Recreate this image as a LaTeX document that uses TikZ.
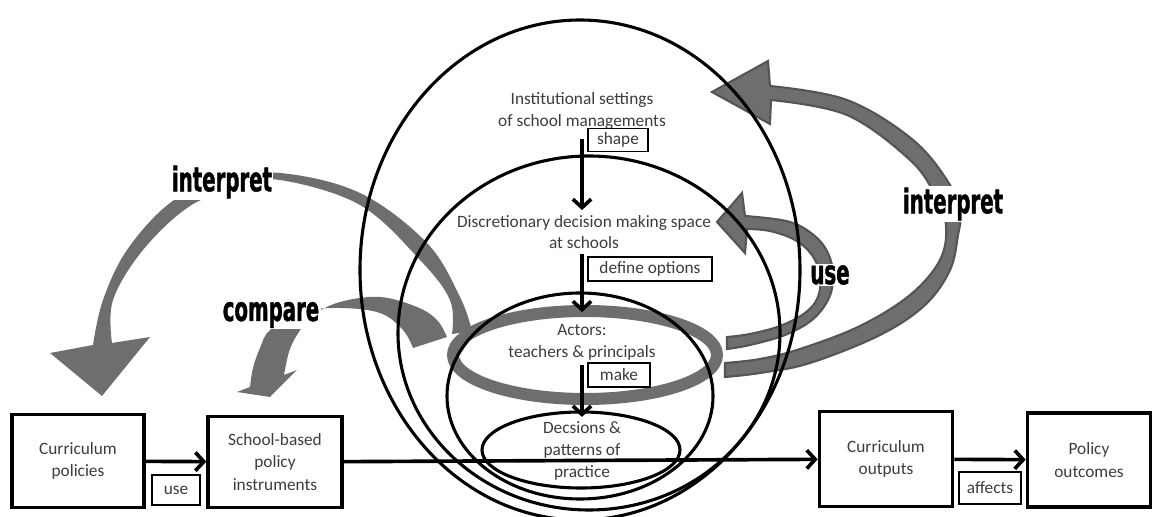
\documentclass[tikz,border=0pt]{standalone}
\usepackage{fontspec}
\setmainfont{Carlito}
\newfontfamily\verbfont[FakeStretch=0.585,FakeBold=1.2]{DejaVu Sans}
\usetikzlibrary{arrows.meta}
\definecolor{txtgray}{RGB}{60,60,60}
\definecolor{arrowgray}{RGB}{110,110,110}
\definecolor{rimgray}{RGB}{85,85,85}

\begin{document}
\begin{tikzpicture}[x=0.025cm,y=-0.025cm,
    box/.style={draw=black,line width=2.4pt,align=center,text=txtgray,inner sep=0pt,font=\fontsize{12.3}{16}\selectfont},
    tag/.style={draw=black,line width=1.4pt,text=txtgray,inner sep=0pt,font=\fontsize{12.3}{14}\selectfont},
    txt/.style={align=center,text=txtgray,font=\fontsize{12.3}{15.5}\selectfont},
    verb/.style={fill=white,inner sep=1pt,font=\verbfont\bfseries\fontsize{24}{24}\selectfont},
    flow/.style={line width=2.6pt,-{Straight Barb[length=6pt,width=13pt]}},
    ring/.style={line width=2.2pt},
    band/.style={fill=arrowgray},
    rimband/.style={fill=arrowgray,draw=rimgray,line width=1.5pt}]
\clip (0,0) rectangle (1153,517);

% gray arrows
\fill[band] plot[smooth,tension=0.6] coordinates {(472,331) (460,297) (427,243) (360,193) (280,173) (220,180) (170,203) (127,250) (103,300) (93,345)}
    -- (50,353) -- (102,396) -- (150,337) -- (112,343)
    -- plot[smooth,tension=0.6] coordinates {(112,343) (113,300) (143,250) (190,206) (240,187) (280,180) (360,205) (420,260) (450,300) (452,334)} -- cycle;
\fill[band] plot[smooth,tension=0.6] coordinates {(447,337) (437,320) (417,307) (380,297) (340,302) (312,316) (297,335) (289,352) (284,375)}
    -- (297,370) -- (270,397) -- (237,392) -- (250,387)
    -- plot[smooth,tension=0.6] coordinates {(250,387) (253,368) (260,348) (270,330) (300,312) (340,308) (380,313) (403,330) (413,348)} -- cycle;
\filldraw[rimband] (712,92) -- (768,61) -- (770,86)
    -- plot[smooth,tension=0.6] coordinates {(770,86) (847,100) (913,140) (950,185) (960,215) (958,235) (950,270) (925,305) (880,335) (810,363) (760,373) (725,377)}
    -- (725,363)
    -- plot[smooth,tension=0.6] coordinates {(725,363) (760,359) (800,349) (860,326) (910,295) (940,260) (946,225) (935,195) (910,160) (847,115) (771,100)}
    -- (770,124) -- cycle;
\filldraw[rimband] (717,222) -- (742,193) -- (745,216)
    -- plot[smooth,tension=0.6] coordinates {(745,216) (790,222) (817,238) (830,258) (833,280) (828,300) (812,320) (785,335) (750,345) (727,349)}
    -- (727,337)
    -- plot[smooth,tension=0.6] coordinates {(727,337) (750,334) (780,326) (805,313) (818,297) (820,275) (812,255) (795,240) (770,231) (747,229)}
    -- (745,253) -- cycle;
\draw[draw=arrowgray,line width=0.3cm] (585,355) ellipse [x radius=132, y radius=44];

\node[verb] (interp1) at (222,182) {interpret};
\node[verb] (comp) at (271,315) {compare};
\node[verb] (interp2) at (953,204) {interpret};
\node[verb] (usev) at (830,275) {use};

% levels
\draw[ring] (580,270) ellipse [x radius=220, y radius=250];
\draw[ring] (589,333) ellipse [x radius=191, y radius=177];
\draw[ring] (580,396) ellipse [x radius=133, y radius=103];
\draw[ring] (581,450) ellipse [x radius=99, y radius=38];

\node[txt] (inst) at (582,111) {Institutional settings\\of school managements};
\node[txt] (disc) at (584,232) {Discretionary decision making space\\at schools};
\node[txt] (act) at (582,342) {Actors:\\teachers \& principals};
\node[txt] (dec) at (582,451) {Decsions \&\\patterns of\\practice};

\node[tag,minimum width=1.5cm,minimum height=0.575cm] (shape) at (618,140) {shape};
\node[tag,minimum width=3.1cm,minimum height=0.6cm] (opts) at (650,269) {define options};
\node[tag,minimum width=1.55cm,minimum height=0.6cm] (make) at (619,375) {make};

\draw[flow] ([yshift=-3pt]inst.south) -- (inst.south |- disc.north);
\draw[flow] (disc.south -| act) -- ([yshift=5pt]act.north);
\draw[flow] (act.south) -- (dec.north);

% chain
\node[box,minimum width=3.3cm,minimum height=2.33cm] (cpol) at (78,461) {Curriculum\\policies};
\node[box,minimum width=3.35cm,minimum height=2.28cm] (sbpi) at (275,462) {School-based\\policy\\instruments};
\node[box,minimum width=3.33cm,minimum height=2.38cm] (cout) at (886,459) {Curriculum\\outputs};
\node[box,minimum width=3.08cm,minimum height=2.35cm] (pout) at (1089,460) {Policy\\outcomes};

\node[tag,minimum width=1.18cm,minimum height=0.75cm] (usetag) at (176,490) {use};
\node[tag,minimum width=1.55cm,minimum height=0.78cm] (aff) at (990,488) {affects};

\path[flow] (cpol) edge (sbpi);
\path[flow] (sbpi) edge (cout);
\path[flow] (cout) edge (pout);
\end{tikzpicture}
\end{document}
